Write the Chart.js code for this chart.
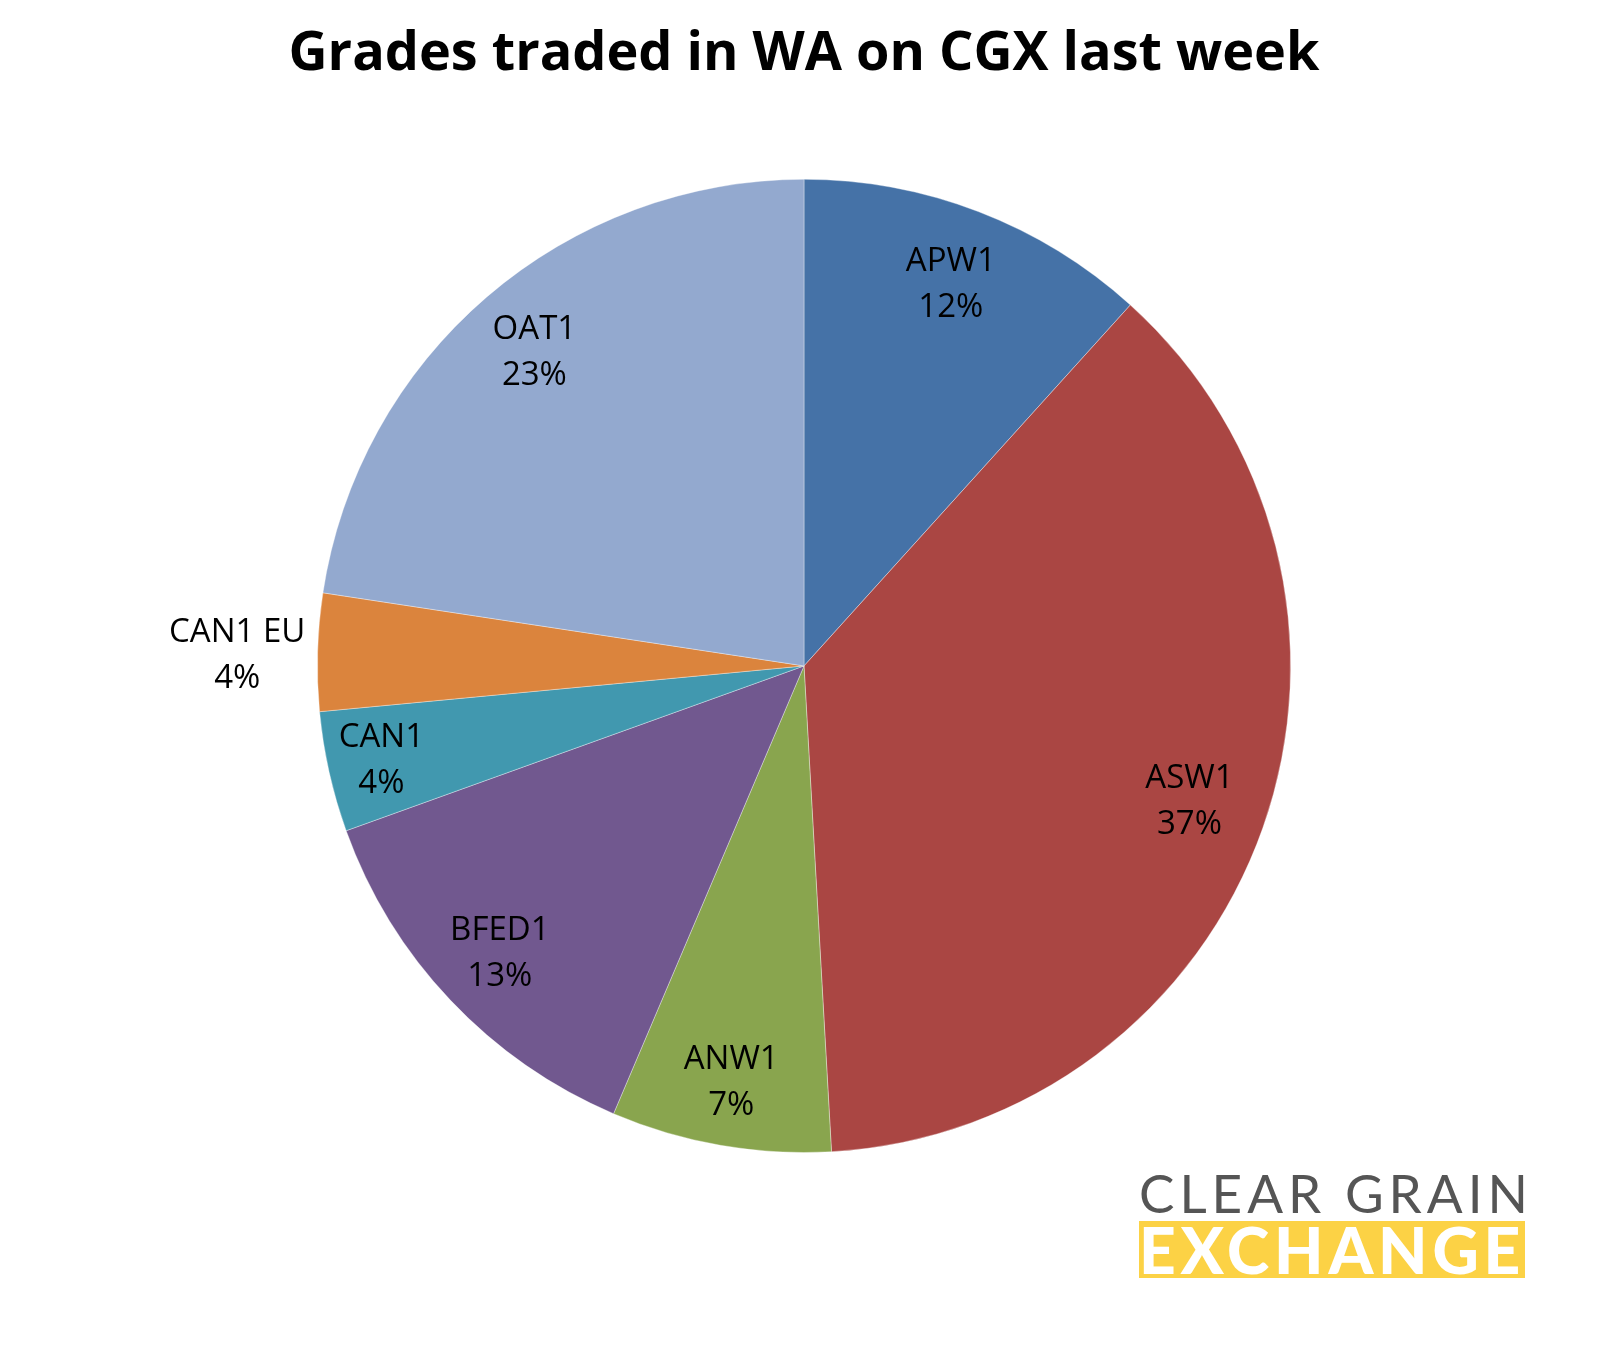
<!DOCTYPE html>
<html>
<head>
<meta charset="utf-8">
<script src="https://cdn.jsdelivr.net/npm/chart.js@4"></script>
<style>
  html, body { margin: 0; padding: 0; background: #fff; }
  #wrap { position: relative; width: 1608px; height: 1351px; }
  #logo1 { position: absolute; left: 1139px; top: 1163px; font-family: Lato, sans-serif; font-weight: 400;
           font-size: 53px; line-height: 60px; color: #555555; letter-spacing: 5px; white-space: nowrap; }
  #logo2 { position: absolute; left: 1139px; top: 1221px; height: 57px; background: #fcd245; font-family: Lato, sans-serif;
           font-weight: 900; font-size: 64px; line-height: 57px; color: #fff; letter-spacing: 4.8px; white-space: nowrap; }
</style>
</head>
<body>
<div id="wrap">
  <canvas id="myChart" width="1608" height="1351"></canvas>
  <div id="logo1">CLEAR GRAIN</div>
  <div id="logo2">EXCHANGE</div>
</div>
<script>
  var grades = ['APW1', 'ASW1', 'ANW1', 'BFED1', 'CAN1', 'CAN1 EU', 'OAT1']
  var shares = [11.7, 37.4, 7.3, 13.1, 4.0, 3.9, 22.6]
  var colours = ['#4572A7', '#AA4643', '#89A54E', '#71588F', '#4198AF', '#DB843D', '#93A9CF']

  // where each label sits: fraction of radius, plus angle nudge (deg) for the outside one
  var labelSpots = [
    { r: 0.84, da: 0 }, { r: 0.84, da: 0 }, { r: 0.87, da: 0 }, { r: 0.86, da: 0 },
    { r: 0.89, da: 0 }, { r: 1.165, da: -0.6 }, { r: 0.85, da: 0 }
  ]

  var sliceLabels = {
    id: 'sliceLabels',
    afterDatasetsDraw: function (chart) {
      var ctx = chart.ctx
      var meta = chart.getDatasetMeta(0)
      var total = shares.reduce(function (a, b) { return a + b }, 0)
      ctx.save()
      ctx.font = '33px "Open Sans"'
      ctx.fillStyle = '#000'
      ctx.textAlign = 'center'
      ctx.textBaseline = 'middle'
      meta.data.forEach(function (arc, i) {
        var p = arc.getProps(['x', 'y', 'startAngle', 'endAngle', 'outerRadius'], true)
        var mid = (p.startAngle + p.endAngle) / 2 + labelSpots[i].da * Math.PI / 180
        var rr = p.outerRadius * labelSpots[i].r
        var x = p.x + Math.cos(mid) * rr
        var y = p.y + Math.sin(mid) * rr
        var pct = Math.round(shares[i] / total * 100) + '%'
        ctx.fillText(grades[i], x, y - 23)
        ctx.fillText(pct, x, y + 23)
      })
      ctx.restore()
    }
  }

  var ctx = document.getElementById('myChart').getContext('2d')
  var chart = new Chart(ctx, {
    type: 'pie',
    data: {
      labels: grades,
      datasets: [{
        data: shares,
        backgroundColor: colours,
        borderColor: 'rgba(255,255,255,0.35)',
        borderWidth: 1
      }]
    },
    options: {
      responsive: false,
      animation: false,
      layout: { padding: { top: 0, bottom: 198, left: 0, right: 0 } },
      plugins: {
        legend: { display: false },
        tooltip: { enabled: false },
        title: {
          display: true,
          text: 'Grades traded in WA on CGX last week',
          color: '#000',
          font: { family: '"Open Sans"', size: 54, weight: 'bold', lineHeight: 1.2 },
          padding: { top: 22, bottom: 92 }
        }
      }
    },
    plugins: [sliceLabels]
  })
</script>
</body>
</html>
